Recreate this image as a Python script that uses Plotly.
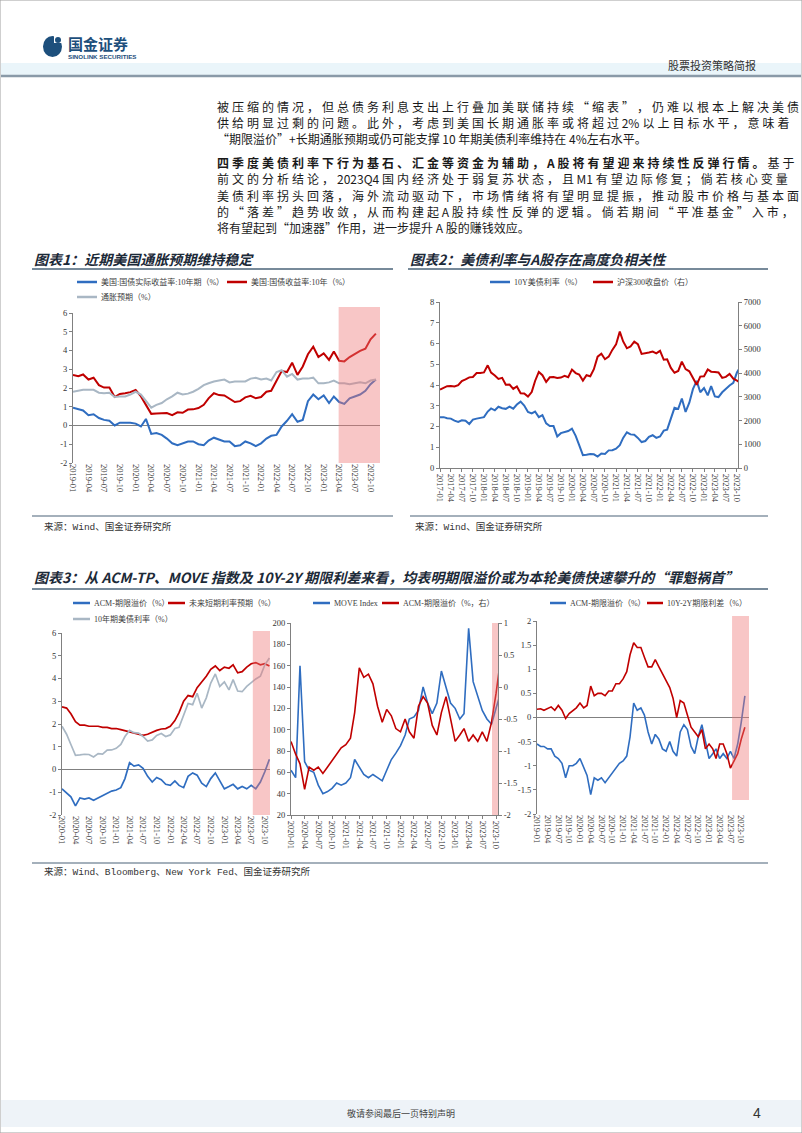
import plotly.graph_objects as go
import pandas as pd

# ======================= DATA =======================
# US 10Y Treasury yield (%), monthly, from 2017-01
US10Y_START = "2017-01-01"
US10Y = [
    2.45, 2.45, 2.40, 2.38, 2.28, 2.22, 2.30, 2.28, 2.12, 2.33, 2.38, 2.40,
    2.45, 2.72, 2.87, 2.78, 2.95, 2.88, 2.85, 2.96, 2.86, 3.06, 3.20, 3.01,
    2.70, 2.63, 2.72, 2.45, 2.55, 2.15, 2.02, 2.02, 1.52, 1.68, 1.72, 1.78,
    1.90, 1.55, 1.10, 0.62, 0.64, 0.67, 0.66, 0.55, 0.70, 0.68, 0.85, 0.86,
    0.93, 1.10, 1.45, 1.72, 1.62, 1.60, 1.45, 1.25, 1.30, 1.50, 1.58, 1.45,
    1.52, 1.80, 1.85, 2.35, 2.90, 2.85, 3.35, 2.70, 3.15, 3.80, 4.20, 3.65,
    3.85, 3.50, 3.95, 3.45, 3.42, 3.65, 3.82, 3.98, 4.10, 4.60, 4.90,
]
# CSI 300 close, monthly, from 2017-01
HS300 = [
    3310, 3387, 3452, 3456, 3439, 3493, 3666, 3737, 3822, 3837, 4006, 4006,
    4030, 4330, 4023, 3899, 3756, 3802, 3510, 3517, 3334, 3438, 3153, 3138,
    3011, 3201, 3669, 4050, 3913, 3630, 3825, 3835, 3799, 3814, 3886, 3828,
    4150, 4003, 3940, 3687, 3912, 3868, 4164, 4695, 4816, 4587, 4695, 4980,
    5211, 5750, 5336, 5048, 5123, 5332, 5224, 4812, 4828, 4867, 4908, 4832,
    4940, 4564, 4581, 4222, 4016, 4091, 4485, 4170, 4079, 3805, 3508, 3853,
    3871, 4157, 4061, 4051, 4030, 3799, 3842, 3966, 3765, 3690, 3573,
]
# Chart 1 series, monthly from 2019-01
C1_START = "2019-01-01"
REAL10Y = [
    0.95, 0.85, 0.80, 0.55, 0.60, 0.40, 0.30, 0.25, 0.00, 0.15, 0.15, 0.15,
    0.10, -0.05, 0.35, -0.45, -0.40, -0.50, -0.70, -0.95, -1.05, -0.95, -0.85, -0.85,
    -1.00, -1.05, -0.80, -0.65, -0.75, -0.85, -0.85, -1.10, -1.05, -0.85, -0.95, -1.10,
    -0.95, -0.70, -0.55, -0.50, -0.05, 0.25, 0.60, 0.20, 0.30, 1.30, 1.65, 1.40,
    1.60, 1.20, 1.55, 1.25, 1.15, 1.45, 1.55, 1.65, 1.85, 2.20, 2.45,
]
BEI10Y = [
    1.80, 1.85, 1.90, 1.90, 1.90, 1.75, 1.72, 1.75, 1.52, 1.55, 1.55, 1.65,
    1.80, 1.65, 1.30, 0.95, 1.10, 1.20, 1.40, 1.55, 1.75, 1.65, 1.70, 1.80,
    1.95, 2.15, 2.25, 2.35, 2.40, 2.45, 2.30, 2.35, 2.35, 2.35, 2.50, 2.55,
    2.45, 2.50, 2.40, 2.85, 2.95, 2.60, 2.75, 2.45, 2.50, 2.50, 2.55, 2.25,
    2.25, 2.30, 2.40, 2.25, 2.25, 2.20, 2.25, 2.30, 2.25, 2.40, 2.45,
]
# Chart 3 series
ACM_START = "2019-01-01"
ACM_TP = [
    -0.55, -0.60, -0.60, -0.65, -0.65, -0.80, -0.85, -0.95, -1.25, -1.00, -1.00, -0.95,
    -0.85, -1.05, -1.20, -1.60, -1.25, -1.30, -1.25, -1.35, -1.25, -1.15, -1.05, -0.95,
    -0.90, -0.80, -0.40, 0.30, 0.15, 0.20, 0.05, -0.30, -0.55, -0.35, -0.45, -0.65,
    -0.70, -0.50, -0.70, -0.80, -0.30, -0.15, -0.25, -0.60, -0.75, -0.40, -0.15, -0.50,
    -0.85, -0.75, -0.65, -0.85, -0.75, -0.85, -0.70, -0.85, -0.55, -0.10, 0.45,
]
SPREAD_10Y2Y = [
    0.17, 0.18, 0.15, 0.18, 0.22, 0.15, 0.25, 0.15, -0.02, 0.08, 0.15, 0.20,
    0.30, 0.20, 0.25, 0.65, 0.45, 0.50, 0.50, 0.45, 0.55, 0.55, 0.70, 0.70,
    0.80, 0.95, 1.30, 1.55, 1.45, 1.45, 1.25, 1.05, 1.05, 1.20, 1.05, 0.90,
    0.78, 0.62, 0.40, 0.00, 0.35, 0.30, 0.05, -0.20, -0.30, -0.40, -0.25, -0.65,
    -0.55, -0.65, -0.85, -0.55, -0.55, -0.75, -1.05, -0.90, -0.75, -0.45, -0.20,
]
C3_START = "2020-01-01"
EXP_SHORT = [
    2.75, 2.70, 2.45, 2.10, 1.95, 1.95, 1.90, 1.90, 1.90, 1.85, 1.85, 1.80,
    1.80, 1.75, 1.70, 1.65, 1.58, 1.55, 1.50, 1.55, 1.65, 1.72, 1.78, 1.80,
    1.90, 2.15, 2.50, 3.00, 3.25, 3.20, 3.60, 3.85, 4.10, 4.40, 4.55, 4.35,
    4.50, 4.45, 4.60, 4.25, 4.30, 4.50, 4.65, 4.70, 4.60, 4.65, 4.55,
]
MOVE = [
    62, 55, 160, 70, 62, 60, 48, 40, 42, 45, 50, 48,
    50, 55, 72, 65, 58, 55, 58, 55, 52, 62, 72, 78,
    85, 95, 110, 112, 118, 140, 125, 115, 125, 155, 140, 125,
    120, 110, 115, 195, 145, 130, 118, 110, 105, 120, 135,
]

# names / labels
C1_NAMES = ["美国:国债实际收益率:10年期（%）", "美国:国债收益率:10年（%）", "通胀预期（%）"]
C2_NAMES = ["10Y美债利率（%）", "沪深300收盘价（右）"]
C3A_NAMES = ["ACM-期限溢价（%）", "未来短期利率预期（%）", "10年期美债利率（%）"]
C3B_NAMES = ["MOVE Index", "ACM-期限溢价（%，右）"]
C3C_NAMES = ["ACM-期限溢价（%）", "10Y-2Y期限利差（%）"]

C1_YTICKS = [-2, -1, 0, 1, 2, 3, 4, 5, 6]
C2_YTICKS = [0, 1, 2, 3, 4, 5, 6, 7, 8]
C2_Y2TICKS = [0, 1000, 2000, 3000, 4000, 5000, 6000, 7000]
C3A_YTICKS = [-2, -1, 0, 1, 2, 3, 4, 5, 6]
C3B_YTICKS = [20, 40, 60, 80, 100, 120, 140, 160, 180, 200]
C3B_Y2TICKS = [-2, -1.5, -1, -0.5, 0, 0.5, 1]
C3C_YTICKS = [-2, -1.5, -1, -0.5, 0, 0.5, 1, 1.5, 2]

# highlighted periods
HL1 = ("2023-03-29", "2023-11-25")
HL3A = ("2023-07-12", "2023-11-05")
HL3B = ("2023-09-04", "2023-10-14")
HL3C = ("2023-07-15", "2023-12-06")

# ======================= HELPERS =======================
W, H = 802, 1133


def X(px):
    return px / W


def Y(py):
    return 1 - py / H


def monthly(start, vals):
    return pd.Series(vals, index=pd.date_range(start, periods=len(vals), freq="MS"))


us10y = monthly(US10Y_START, US10Y)
hs300 = monthly(US10Y_START, HS300)
real10y = monthly(C1_START, REAL10Y)
bei10y = monthly(C1_START, BEI10Y)
acm = monthly(ACM_START, ACM_TP)
spread = monthly(ACM_START, SPREAD_10Y2Y)
exps = monthly(C3_START, EXP_SHORT)
move = monthly(C3_START, MOVE)

BLUE = "#2f6dc0"
RED = "#c00000"
GRAY = "#a9b7c4"
AXC = "#808080"
PINK = "rgba(238,120,120,0.42)"
CJK = "Noto Sans CJK SC"
SERIF = "Liberation Serif, Noto Sans CJK SC"
TICKFONT = dict(family=SERIF, size=8.5, color="#333333")

fig = go.Figure()
shapes = []
annos = []


def add_line(s, color, width, xa, ya):
    fig.add_trace(go.Scatter(x=s.index, y=s.values, mode="lines",
                             line=dict(color=color, width=width),
                             xaxis=xa, yaxis=ya, showlegend=False, hoverinfo="skip"))


def text(px, py, t, size=9, color="#333", family=CJK, anchor="left"):
    annos.append(dict(x=X(px), y=Y(py), xref="paper", yref="paper", text=t,
                      showarrow=False, xanchor=anchor, yanchor="middle",
                      font=dict(size=size, color=color, family=family)))


def hline(x0, x1, py, color, width):
    shapes.append(dict(type="line", xref="paper", yref="paper", x0=X(x0), x1=X(x1),
                       y0=Y(py), y1=Y(py), line=dict(color=color, width=width)))


def legend_item(px, py, color, name, length=18):
    hline(px, px + length, py, color, 2.5)
    text(px + length + 2, py, name, size=8, color="#404040", family=SERIF)


def pink(xref, rng, ytop, ybot):
    shapes.append(dict(type="rect", xref=xref, yref="paper", x0=rng[0], x1=rng[1],
                       y0=Y(ybot), y1=Y(ytop), fillcolor=PINK, line=dict(width=0),
                       layer="above"))


def xdate(x0, x1, anchor, rng, tick0, showline):
    return dict(domain=[X(x0), X(x1)], anchor=anchor, type="date", range=list(rng),
                tickformat="%Y-%m", dtick="M3", tick0=tick0, tickangle=90,
                tickfont=TICKFONT, showgrid=False, zeroline=False,
                showline=showline, linecolor=AXC, linewidth=1,
                ticks="outside" if showline else "", ticklen=3, tickcolor=AXC,
                automargin=False, fixedrange=True)


def fmt(v):
    return str(int(v)) if float(v).is_integer() else str(v)


def yax(ytop, ybot, anchor, rng, tickvals, side="left", overlaying=None, zeroline=False):
    d = dict(anchor=anchor, range=list(rng), tickvals=tickvals,
             ticktext=[fmt(v) for v in tickvals], tickfont=TICKFONT,
             showgrid=False, zeroline=zeroline, zerolinecolor=AXC, zerolinewidth=1,
             showline=True, linecolor=AXC, linewidth=1, ticks="outside", ticklen=3,
             tickcolor=AXC, automargin=False, side=side, fixedrange=True)
    if overlaying:
        d["overlaying"] = overlaying
    else:
        d["domain"] = [Y(ybot), Y(ytop)]
    return d


def spaced(segments, justify):
    """Build a line of body text; on justified lines add a narrow space between
    characters to imitate the report's character grid."""
    flat = [(ch, b) for t, b in segments for ch in t]
    out, cur_bold = "", False
    for i, (ch, b) in enumerate(flat):
        if b != cur_bold:
            out += "<b>" if b else "</b>"
            cur_bold = b
        out += ch
        if justify and i < len(flat) - 1:
            nxt = flat[i + 1][0]
            both_ascii = ch.isascii() and nxt.isascii()
            if not both_ascii and ch != " " and nxt != " ":
                out += "\u2005"
    if cur_bold:
        out += "</b>"
    return out


# ======================= CHART 1 =======================
add_line(real10y, BLUE, 2, "x", "y")
add_line(us10y[C1_START:], RED, 2, "x", "y")
add_line(bei10y, GRAY, 2, "x", "y")
pink("x", HL1, 307, 463)

# ======================= CHART 2 =======================
add_line(us10y, BLUE, 2, "x2", "y2")
add_line(hs300, RED, 2, "x2", "y3")

# ======================= CHART 3a =======================
add_line(acm[C3_START:], BLUE, 1.7, "x3", "y4")
add_line(exps, RED, 1.7, "x3", "y4")
add_line(us10y[C3_START:], GRAY, 1.7, "x3", "y4")
pink("x3", HL3A, 631, 815)

# ======================= CHART 3b =======================
add_line(move, BLUE, 1.6, "x4", "y5")
add_line(acm[C3_START:], RED, 1.6, "x4", "y6")
pink("x4", HL3B, 623, 815)

# ======================= CHART 3c =======================
add_line(acm, BLUE, 1.6, "x5", "y7")
add_line(spread, RED, 1.6, "x5", "y7")
pink("x5", HL3C, 616, 800)

layout_axes = dict(
    xaxis=xdate(73, 380, "y", ("2019-01-01", "2023-11-25"), "2019-01-01", False),
    yaxis=yax(313, 463, "x", (-2, 6), C1_YTICKS, zeroline=True),
    xaxis2=xdate(440, 738, "y2", ("2017-01-01", "2023-10-10"), "2017-01-01", True),
    yaxis2=yax(302, 468, "x2", (0, 8), C2_YTICKS),
    yaxis3=yax(302, 468, "x2", (0, 7000), C2_Y2TICKS, side="right", overlaying="y2"),
    xaxis3=xdate(62, 270, "y4", ("2020-01-01", "2023-11-05"), "2020-01-01", False),
    yaxis4=yax(633, 815, "x3", (-2, 6), C3A_YTICKS, zeroline=True),
    xaxis4=xdate(291, 498, "y5", ("2020-01-01", "2023-10-14"), "2020-01-01", True),
    yaxis5=yax(623, 815, "x4", (20, 200), C3B_YTICKS),
    yaxis6=yax(623, 815, "x4", (-2, 1), C3B_Y2TICKS, side="right", overlaying="y5"),
    xaxis5=xdate(537, 749, "y7", ("2019-01-01", "2023-12-06"), "2019-01-01", False),
    yaxis7=yax(621, 814, "x5", (-2, 2), C3C_YTICKS, zeroline=True),
)

# ======================= PAGE DECORATION =======================
shapes.append(dict(type="rect", xref="paper", yref="paper", x0=0, x1=1, y0=0, y1=1,
                   line=dict(color="#a0a0a0", width=1), fillcolor="rgba(0,0,0,0)"))
shapes.append(dict(type="rect", xref="paper", yref="paper", x0=X(1), x1=X(801),
                   y0=Y(75), y1=Y(63), fillcolor="#eaf5fa", line=dict(width=0), layer="below"))
hline(1, 801, 76, "#8a9aa8", 2.5)
# logo
shapes.append(dict(type="circle", xref="paper", yref="paper", x0=X(43), x1=X(62),
                   y0=Y(57), y1=Y(36), fillcolor="#1d4f7c", line=dict(width=0)))
shapes.append(dict(type="rect", xref="paper", yref="paper", x0=X(54), x1=X(63),
                   y0=Y(43), y1=Y(34), fillcolor="white", line=dict(width=0)))
shapes.append(dict(type="circle", xref="paper", yref="paper", x0=X(55), x1=X(61),
                   y0=Y(43), y1=Y(37), fillcolor="#1d4f7c", line=dict(width=0)))
text(66, 44, "<b>国金证券</b>", size=15, color="#1d4f7c")
text(66, 57, "<b>SINOLINK SECURITIES</b>", size=6.2, color="#1d4f7c", family="Liberation Sans")
text(758, 65, "股票投资策略简报", size=11, color="#333", anchor="right")

# body text: (y, segments, justified)
BODY = [
    (106, [("被压缩的情况，但总债务利息支出上行叠加美联储持续“缩表”，仍难以根本上解决美债", False)], True),
    (122.2, [("供给明显过剩的问题。此外，考虑到美国长期通胀率或将超过 2%以上目标水平，意味着", False)], True),
    (138.4, [("“期限溢价”+长期通胀预期或仍可能支撑 10 年期美债利率维持在 4%左右水平。", False)], False),
    (162.7, [("四季度美债利率下行为基石、汇金等资金为辅助，A 股将有望迎来持续性反弹行情。", True), ("基于", False)], True),
    (178.9, [("前文的分析结论，2023Q4 国内经济处于弱复苏状态，且 M1 有望边际修复；倘若核心变量", False)], True),
    (195.1, [("美债利率拐头回落，海外流动驱动下，市场情绪将有望明显提振，推动股市价格与基本面", False)], True),
    (211.3, [("的“落差”趋势收敛，从而构建起 A 股持续性反弹的逻辑。倘若期间“平准基金”入市，", False)], True),
    (227.5, [("将有望起到“加速器”作用，进一步提升 A 股的赚钱效应。", False)], False),
]
for py, segs, just in BODY:
    text(215, py, spaced(segs, just), size=12, color="#1a1a1a")

# chart titles
TITLE_C = "#1c2a38"
text(32, 259, "<b><i>图表1：近期美国通胀预期维持稳定</i></b>", size=14, color=TITLE_C)
text(408, 259, "<b><i>图表2：美债利率与A股存在高度负相关性</i></b>", size=14, color=TITLE_C)
hline(32, 393, 269, "#4a6378", 1.5)
hline(408, 768, 269, "#4a6378", 1.5)
text(32, 577, "<b><i>图表3：从 ACM-TP、MOVE 指数及 10Y-2Y 期限利差来看，均表明期限溢价或为本轮美债快速攀升的“罪魁祸首”</i></b>",
     size=14, color=TITLE_C)
hline(32, 768, 589, "#4a6378", 1.5)

# legends
legend_item(77, 282, BLUE, C1_NAMES[0], 20)
legend_item(227, 282, RED, C1_NAMES[1], 20)
legend_item(77, 297, GRAY, C1_NAMES[2], 20)
legend_item(490, 282, BLUE, C2_NAMES[0], 20)
legend_item(593, 282, RED, C2_NAMES[1], 20)
legend_item(73, 603, BLUE, C3A_NAMES[0], 17)
legend_item(168, 603, RED, C3A_NAMES[1], 17)
legend_item(73, 619, GRAY, C3A_NAMES[2], 17)
legend_item(313, 603, BLUE, C3B_NAMES[0], 17)
legend_item(382, 603, RED, C3B_NAMES[1], 17)
legend_item(550, 603, BLUE, C3C_NAMES[0], 16)
legend_item(647, 603, RED, C3C_NAMES[1], 16)

# sources
SRC_FONT = "Liberation Mono, Noto Sans CJK SC"
hline(32, 393, 516, "#4a6378", 1.2)
hline(410, 768, 516, "#4a6378", 1.2)
text(42, 527, "来源：Wind、国金证券研究所", size=9.5, color="#333", family=SRC_FONT)
text(413, 527, "来源：Wind、国金证券研究所", size=9.5, color="#333", family=SRC_FONT)
hline(32, 768, 863, "#4a6378", 1.2)
text(42, 872, "来源：Wind、Bloomberg、New York Fed、国金证券研究所", size=9.5, color="#333", family=SRC_FONT)

# footer
shapes.append(dict(type="rect", xref="paper", yref="paper", x0=X(1), x1=X(801),
                   y0=Y(1127), y1=Y(1100), fillcolor="#eef3f8", line=dict(width=0), layer="below"))
text(401, 1113, "敬请参阅最后一页特别声明", size=9, color="#444", anchor="center")
text(757, 1113, "4", size=14, color="#333", family="Liberation Sans", anchor="center")

fig.update_layout(
    width=W, height=H, margin=dict(l=0, r=0, t=0, b=0, pad=0),
    paper_bgcolor="white", plot_bgcolor="rgba(0,0,0,0)",
    template="none", showlegend=False, hovermode=False,
    shapes=shapes, annotations=annos, **layout_axes,
)

fig.write_html("out.html", config={"displayModeBar": False})
